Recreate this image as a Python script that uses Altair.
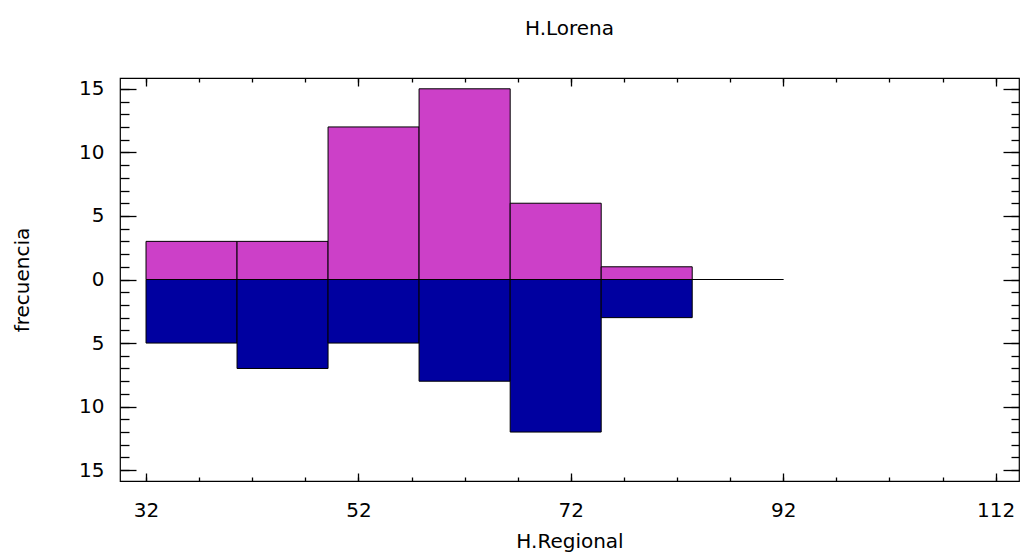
import altair as alt
import pandas as pd

# ---- data ----
bin_start = [32.0, 40.57, 49.14, 57.71, 66.29, 74.86, 83.43]
bin_end = [40.57, 49.14, 57.71, 66.29, 74.86, 83.43, 92.0]
upper_counts = [3, 3, 12, 15, 6, 1, 0]
lower_counts = [5, 7, 5, 8, 12, 3, 0]
x_major = [32, 52, 72, 92, 112]
x_minor = list(range(32, 113, 5))
y_major = [-15, -10, -5, 0, 5, 10, 15]
y_minor = list(range(-15, 16))

FONT = "DejaVu Sans"
FS = 20

upper = pd.DataFrame({"start": bin_start, "end": bin_end,
                      "count": upper_counts, "base": [0] * len(bin_start)})
lower = pd.DataFrame({"start": bin_start, "end": bin_end,
                      "count": [-c for c in lower_counts], "base": [0] * len(bin_start)})

xs = alt.Scale(domain=[29.55, 114.2], nice=False, zero=False)
ys = alt.Scale(domain=[-15.85, 15.85], nice=False, zero=False)


def xaxis(orient, values, size, labels=False, title=None):
    kw = dict(orient=orient, values=values, tickSize=size, offset=-size,
              domain=False, grid=False, labels=labels, tickColor="black",
              tickWidth=1.3, labelFlush=False)
    if labels:
        kw.update(labelFont=FONT, labelFontSize=FS, labelColor="black",
                  labelPadding=19)
    if title:
        kw.update(title=title, titleFont=FONT, titleFontSize=FS,
                  titleFontWeight="normal", titleColor="black", titlePadding=11)
    else:
        kw.update(title=None)
    return alt.Axis(**kw)


def yaxis(orient, values, size, labels=False, title=None):
    kw = dict(orient=orient, values=values, tickSize=size, offset=-size,
              domain=False, grid=False, labels=labels, tickColor="black",
              tickWidth=1.3, labelFlush=False)
    if labels:
        kw.update(labelFont=FONT, labelFontSize=FS, labelColor="black",
                  labelPadding=16, labelExpr="'' + abs(datum.value)")
    if title:
        kw.update(title=title, titleFont=FONT, titleFontSize=FS,
                  titleFontWeight="normal", titleColor="black", titlePadding=46)
    else:
        kw.update(title=None)
    return alt.Axis(**kw)


def layer(df, color, ax_x, ax_y, opacity=1.0):
    return alt.Chart(df).mark_rect(
        fill=color, stroke="black", strokeWidth=1, opacity=opacity
    ).encode(
        x=alt.X("start:Q", scale=xs, axis=ax_x),
        x2="end:Q",
        y=alt.Y("count:Q", scale=ys, axis=ax_y),
        y2="base:Q",
    )


l1 = layer(upper, "#CC40C8",
           xaxis("bottom", x_major, 8, labels=True, title="H.Regional"),
           yaxis("left", y_major, 16, labels=True, title="frecuencia"))
l2 = layer(lower, "#0000A0",
           xaxis("bottom", x_minor, 4),
           yaxis("left", y_minor, 9))
l3 = layer(upper, "#FFFFFF",
           xaxis("top", x_major, 8),
           yaxis("right", y_major, 16), opacity=0)
l4 = layer(upper, "#FFFFFF",
           xaxis("top", x_minor, 4),
           yaxis("right", y_minor, 8), opacity=0)

chart = alt.layer(l1, l2, l3, l4).resolve_scale(
    x="shared", y="shared"
).resolve_axis(
    x="independent", y="independent"
).properties(
    width=899, height=403,
    background="white",
    title=alt.Title("H.Lorena", font=FONT, fontSize=FS, fontWeight="normal",
                    color="black", offset=38),
    autosize=alt.AutoSizeParams(type="none"),
    padding={"left": 120, "top": 78, "right": 1, "bottom": 76},
).configure_view(
    stroke="black", strokeWidth=1.2
)

chart.save("out.html", embed_options={"renderer": "svg", "actions": False})
